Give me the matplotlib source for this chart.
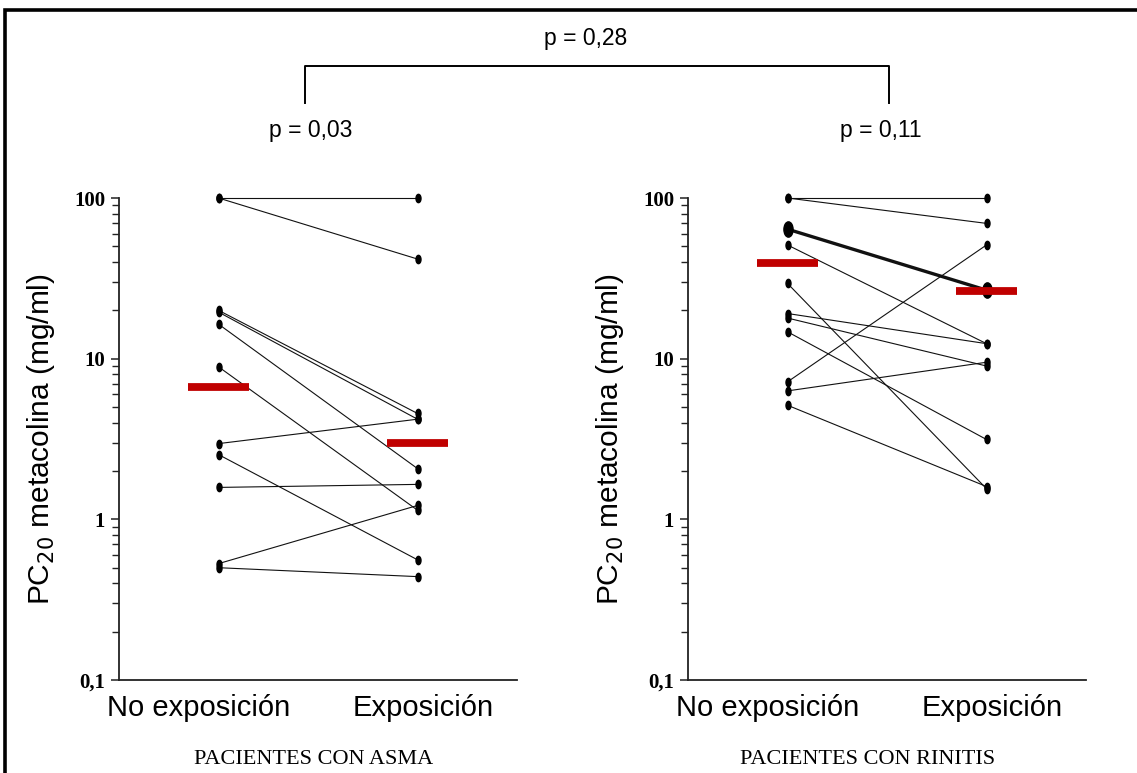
import matplotlib
matplotlib.use("Agg")
import matplotlib.pyplot as plt
from matplotlib.markers import MarkerStyle
from matplotlib.transforms import Affine2D
from matplotlib.lines import Line2D
from matplotlib.ticker import FixedLocator, LogLocator, NullFormatter

# ---- data -------------------------------------------------------------
categories = ["No exposición", "Exposición"]
group_titles = ["PACIENTES CON ASMA", "PACIENTES CON RINITIS"]
p_within = ["p = 0,03", "p = 0,11"]
p_between = "p = 0,28"

ytick_values = [0.1, 1, 10, 100]
ytick_labels = ["0,1", "1", "10", "100"]

# PC20 (mg/ml), paired per patient
asma_no_expo = [100, 100, 20.0, 19.5, 16.4, 8.9, 2.96, 2.53, 1.58, 0.53, 0.50]
asma_expo = [100, 41.7, 4.56, 4.2, 2.07, 1.14, 4.2, 0.56, 1.65, 1.22, 0.44]
asma_count = [1, 1, 1, 1, 1, 1, 1, 1, 1, 1, 1]

rinitis_no_expo = [100, 100, 64, 51, 29.4, 19.1, 17.9, 14.7, 7.17, 6.3, 5.13]
rinitis_expo = [100, 69.5, 26.7, 12.4, 1.55, 12.4, 9.0, 3.14, 51, 9.5, 1.6]
rinitis_count = [1, 1, 3, 1, 1, 1, 1, 1, 1, 1, 1]

# group geometric means
asma_means = [6.64, 2.97]
rinitis_means = [39.4, 26.3]

# ---- figure -----------------------------------------------------------
W, H = 1137, 773
fig = plt.figure(figsize=(W / 100, H / 100), dpi=100)
fig.patch.set_facecolor("white")


def fx(px):
    return px / W


def fy(py):
    return 1 - py / H


sans = ["Liberation Sans", "DejaVu Sans"]
serif = ["Liberation Serif", "DejaVu Serif"]

ell = MarkerStyle("o", transform=Affine2D().scale(0.6, 1.0))

panels = [
    (119, asma_no_expo, asma_expo, asma_count, asma_means),
    (688, rinitis_no_expo, rinitis_expo, rinitis_count, rinitis_means),
]

axes = []
for i, (left_px, before, after, count, means) in enumerate(panels):
    ax = fig.add_axes([fx(left_px), fy(680), 398 / W, (680 - 198) / H])
    axes.append(ax)
    ax.set_yscale("log")
    ax.set_ylim(0.1, 100)
    ax.set_xlim(-0.5, 1.5)
    for s in ("top", "right"):
        ax.spines[s].set_visible(False)
    for s in ("left", "bottom"):
        ax.spines[s].set_linewidth(1.3)
        ax.spines[s].set_color("#222222")

    # paired lines
    for b, a, n in zip(before, after, count):
        ax.plot([0, 1], [b, a], color="#111111", lw=0.8 * n,
                marker=ell, markersize=6 + 2.5 * (n - 1),
                markerfacecolor="black", markeredgecolor="black",
                solid_capstyle="butt", clip_on=False, zorder=3)

    # mean bars
    for xi, m in enumerate(means):
        ax.hlines(m, xi - 0.153, xi + 0.153, colors="#c00000",
                  linewidth=5.6, zorder=4)

    # y axis ticks
    ax.yaxis.set_major_locator(FixedLocator(ytick_values))
    ax.set_yticklabels(ytick_labels, family=serif, fontsize=15,
                       fontweight="bold")
    ax.yaxis.set_minor_locator(LogLocator(base=10, subs=range(2, 10)))
    ax.yaxis.set_minor_formatter(NullFormatter())
    ax.tick_params(axis="y", which="major", length=6, width=1.1,
                   direction="out", pad=4, colors="#222222",
                   labelcolor="black")
    ax.tick_params(axis="y", which="minor", length=5, width=1.0,
                   direction="out", colors="#222222")
    ax.set_xticks([])

    ax.set_ylabel("PC$_{20}$ metacolina (mg/ml)", family=sans, fontsize=21.5)
    ax.yaxis.set_label_coords(-0.155, 0.5)

    # category labels under the axis
    tr = ax.get_xaxis_transform()
    ax.text(-0.1, -0.058, categories[0], transform=tr, ha="center",
            va="center", family=sans, fontsize=21)
    ax.text(1.03, -0.058, categories[1], transform=tr, ha="center",
            va="center", family=sans, fontsize=21)

# group titles
fig.text(fx(314), fy(760), group_titles[0], ha="center", va="center",
         family=serif, fontsize=16)
fig.text(fx(868), fy(760), group_titles[1], ha="center", va="center",
         family=serif, fontsize=16)

# p-values and comparison bracket
fig.text(fx(311), fy(130), p_within[0], ha="center", va="center",
         family=sans, fontsize=16.5)
fig.text(fx(881), fy(130), p_within[1], ha="center", va="center",
         family=sans, fontsize=16.5)
fig.text(fx(586), fy(38), p_between, ha="center", va="center",
         family=sans, fontsize=16.5)
fig.add_artist(Line2D([fx(305), fx(305), fx(889), fx(889)],
                      [fy(103), fy(66), fy(66), fy(103)],
                      transform=fig.transFigure, color="black", lw=1.4))

# outer frame (top and left edges)
fig.add_artist(Line2D([fx(5), fx(5), fx(W)], [0, fy(10), fy(10)],
                      transform=fig.transFigure, color="black", lw=2.6,
                      solid_capstyle="butt", solid_joinstyle="miter"))

fig.savefig("out.png", dpi=100, facecolor="white")
